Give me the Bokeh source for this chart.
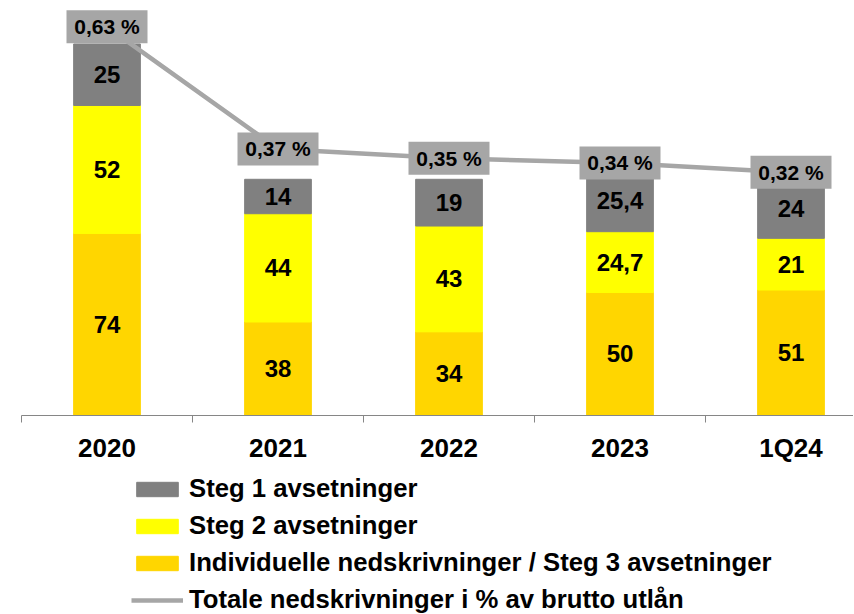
import numpy as np
from bokeh.plotting import figure
from bokeh.layouts import column
from bokeh.models import ColumnDataSource, Range1d, LinearAxis, FixedTicker, Legend, LegendItem
from bokeh.core.properties import value
from bokeh.embed import file_html
from bokeh.resources import INLINE

# ---- data ----
categories = ["2020", "2021", "2022", "2023", "1Q24"]
steg3 = [74, 38, 34, 50, 51]
steg2 = [52, 44, 43, 24.7, 21]
steg1 = [25, 14, 19, 25.4, 24]
pct = [0.63, 0.37, 0.35, 0.34, 0.32]

name_steg1 = "Steg 1 avsetninger"
name_steg2 = "Steg 2 avsetninger"
name_steg3 = "Individuelle nedskrivninger / Steg 3 avsetninger"
name_line = "Totale nedskrivninger i % av brutto utlån"

# ---- style ----
C_GRAY = "#808080"
C_YELLOW = "#FFFF00"
C_GOLD = "#FFD600"
C_LINE = "#A6A6A6"
FONT = "Liberation Sans"


def fmt(v):
    return f"{v:g}".replace(".", ",")


xs = list(range(len(categories)))

p = figure(width=853, height=465, output_backend="svg", toolbar_location=None,
           x_range=Range1d(-0.5, -0.5 + 832 / 171), y_range=Range1d(0, 165),
           x_axis_location=None, y_axis_location=None,
           min_border_left=21, min_border_right=0, min_border_top=9, min_border_bottom=50)
p.outline_line_color = None
p.background_fill_color = "white"
p.grid.visible = False
p.extra_y_ranges = {"pct": Range1d(-0.198, 0.667)}

# x axis
xaxis = LinearAxis(
    ticker=FixedTicker(ticks=xs, minor_ticks=[i - 0.5 for i in range(len(xs) + 1)]),
    major_label_overrides={i: c for i, c in enumerate(categories)},
)
xaxis.axis_line_color = "#868686"
xaxis.axis_line_width = 1
xaxis.major_tick_out = 0
xaxis.major_tick_in = 0
xaxis.minor_tick_out = 7
xaxis.minor_tick_in = 0
xaxis.minor_tick_line_color = "#868686"
xaxis.major_label_text_font = FONT
xaxis.major_label_text_font_style = "bold"
xaxis.major_label_text_font_size = "26px"
xaxis.major_label_text_color = "black"
xaxis.major_label_standoff = 10
p.add_layout(xaxis, "below")

# stacked bars
src = ColumnDataSource(dict(x=xs, steg3=steg3, steg2=steg2, steg1=steg1))
bars = p.vbar_stack(["steg3", "steg2", "steg1"], x="x", width=0.39,
                    color=[C_GOLD, C_YELLOW, C_GRAY], source=src)

# bar labels
lx, ly, lt = [], [], []
for i in xs:
    bottom = 0
    for series in (steg3, steg2, steg1):
        v = series[i]
        lx.append(i)
        ly.append(bottom + v / 2)
        lt.append(fmt(v))
        bottom += v
p.text(x=lx, y=ly, text=lt, text_align="center", text_baseline="middle",
       text_font=value(FONT), text_font_style="bold", text_font_size="24px",
       text_color="black")

# percentage line
p.line(xs, pct, y_range_name="pct", line_color=C_LINE, line_width=4.5)
p.rect(x=xs, y=pct, width=81, height=33, width_units="screen", height_units="screen",
       fill_color=C_LINE, line_color=None, y_range_name="pct")
p.text(x=xs, y=pct, text=[f"{v:.2f}".replace(".", ",") + " %" for v in pct],
       y_range_name="pct", text_align="center", text_baseline="middle",
       text_font=value(FONT), text_font_style="bold", text_font_size="21px",
       text_color="black")

# ---- legend panel (separate figure below the chart) ----
lg = figure(width=853, height=148, output_backend="svg", toolbar_location=None,
            x_range=Range1d(0, 1), y_range=Range1d(0, 1),
            x_axis_location=None, y_axis_location=None,
            min_border_left=21, min_border_right=0, min_border_top=0, min_border_bottom=0)
lg.outline_line_color = None
lg.grid.visible = False
proxy = ColumnDataSource(dict(x=np.array([np.nan]), top=np.array([np.nan]), y=np.array([np.nan])))
r1 = lg.vbar(x="x", top="top", width=0.1, color=C_GRAY, source=proxy)
r2 = lg.vbar(x="x", top="top", width=0.1, color=C_YELLOW, source=proxy)
r3 = lg.vbar(x="x", top="top", width=0.1, color=C_GOLD, source=proxy)
r4 = lg.line(x="x", y="y", line_color=C_LINE, line_width=4.5, source=proxy)

legend = Legend(
    items=[LegendItem(label=name_steg1, renderers=[r1]),
           LegendItem(label=name_steg2, renderers=[r2]),
           LegendItem(label=name_steg3, renderers=[r3]),
           LegendItem(label=name_line, renderers=[r4])],
    location=(110, -1), orientation="vertical",
    glyph_width=52, glyph_height=18, label_standoff=6,
    label_height=29, spacing=8, padding=0, margin=0,
    border_line_color=None, background_fill_alpha=0,
    label_text_font=FONT, label_text_font_size="25.7px", label_text_font_style="bold",
    label_text_color="black",
)
lg.add_layout(legend, "center")

layout = column(p, lg, spacing=0)
open("out.html", "w").write(file_html(layout, INLINE))
